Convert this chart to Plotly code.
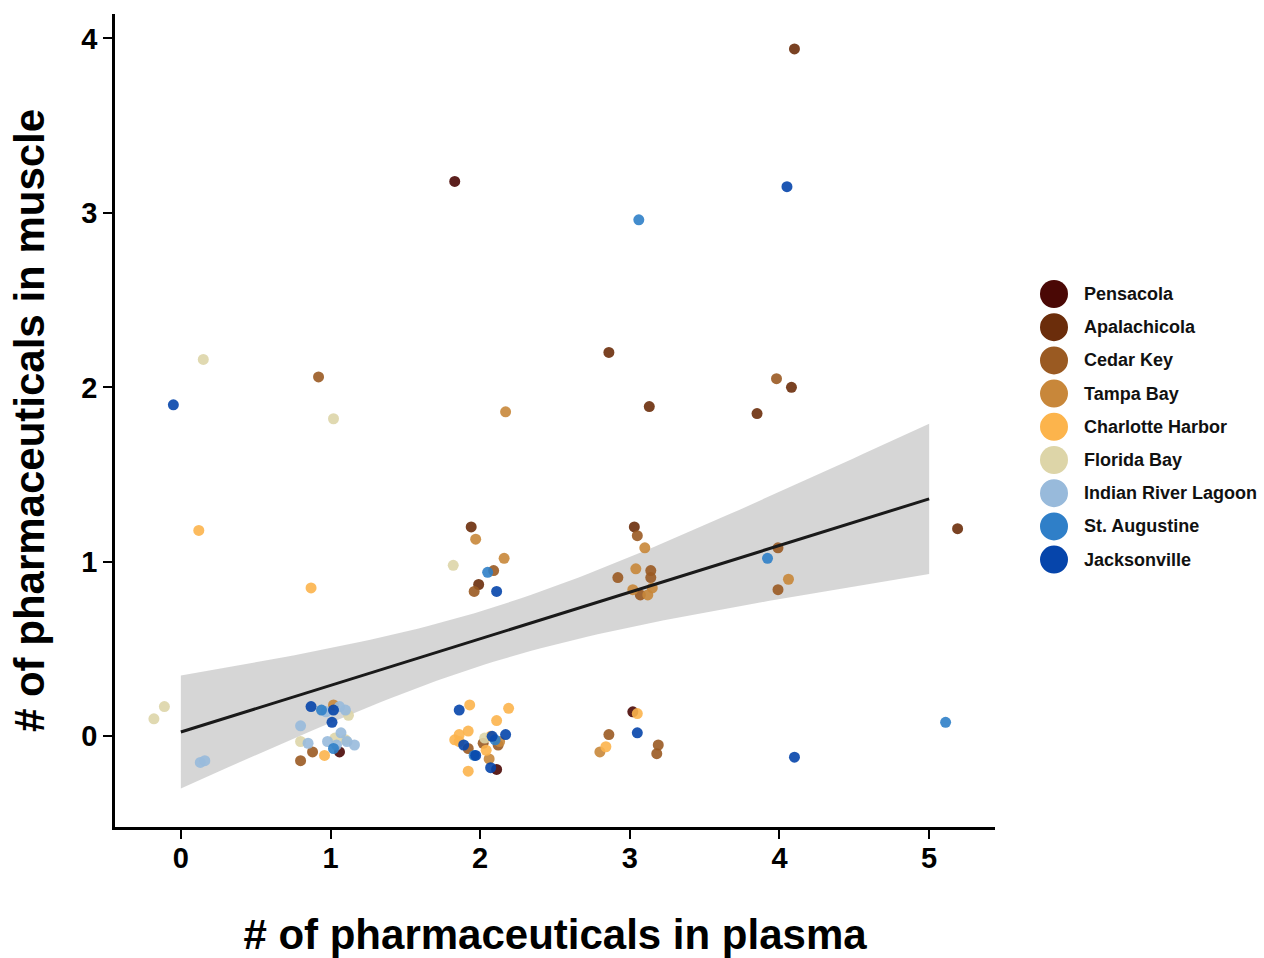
import numpy as np
import plotly.graph_objects as go

# ---- data (jittered positions) ----
sites = ["Pensacola", "Apalachicola", "Cedar Key", "Tampa Bay", "Charlotte Harbor",
         "Florida Bay", "Indian River Lagoon", "St. Augustine", "Jacksonville"]
colors = ["#4a0805", "#6b2d0b", "#9a5a22", "#c8873a", "#fcb44c",
          "#ddd5a8", "#98badb", "#2f7fc8", "#0645ab"]

pensacola_x = [1.83, 1.06, 2.11, 3.02]
pensacola_y = [3.18, -0.09, -0.19, 0.14]
apalachicola_x = [4.10, 4.08, 3.85, 3.13, 2.86, 1.94, 3.03, 5.19, 1.99]
apalachicola_y = [3.94, 2.00, 1.85, 1.89, 2.20, 1.20, 1.20, 1.19, 0.87]
cedarkey_x = [0.92, 3.98, 3.05, 2.09, 1.96, 2.92, 3.14, 3.14, 3.99, 3.99, 0.80, 0.88,
              2.86, 3.19, 3.18, 1.92, 2.02, 2.12, 3.07]
cedarkey_y = [2.06, 2.05, 1.15, 0.95, 0.83, 0.91, 0.95, 0.91, 1.08, 0.84, -0.14, -0.09,
              0.01, -0.05, -0.10, -0.07, -0.04, -0.05, 0.81]
tampa_x = [2.17, 1.97, 3.10, 2.16, 3.04, 3.02, 3.15, 4.06, 2.80, 1.02, 2.06, 2.13, 3.12]
tampa_y = [1.86, 1.13, 1.08, 1.02, 0.96, 0.84, 0.85, 0.90, -0.09, 0.18, -0.13, -0.03, 0.81]
charlotte_x = [0.12, 0.87, 3.05, 2.84, 1.93, 2.19, 0.96, 1.92, 1.83, 1.86, 1.92, 2.07,
               2.11, 2.04, 1.86]
charlotte_y = [1.18, 0.85, 0.13, -0.06, 0.18, 0.16, -0.11, -0.20, -0.02, 0.01, 0.03, 0.00,
               0.09, -0.08, -0.03]
floridabay_x = [0.15, 1.02, 1.82, -0.18, -0.11, 1.03, 1.10, 0.80, 2.03, 1.12]
floridabay_y = [2.16, 1.82, 0.98, 0.10, 0.17, -0.01, -0.02, -0.03, -0.01, 0.12]
irl_x = [0.13, 0.16, 0.80, 0.85, 1.16, 1.04, 1.07, 0.98, 1.10, 1.06, 0.97, 1.11]
irl_y = [-0.15, -0.14, 0.06, -0.04, -0.05, -0.05, 0.02, -0.03, 0.15, 0.17, 0.14, -0.03]
staug_x = [3.06, 3.92, 2.05, 5.11, 0.94, 1.02, 1.96, 2.10]
staug_y = [2.96, 1.02, 0.94, 0.08, 0.15, -0.07, -0.11, -0.02]
jax_x = [-0.05, 4.05, 2.11, 3.05, 4.10, 1.86, 1.01, 1.02, 0.87, 1.89, 2.17, 2.07, 1.97, 2.08]
jax_y = [1.90, 3.15, 0.83, 0.02, -0.12, 0.15, 0.08, 0.15, 0.17, -0.05, 0.01, -0.18, -0.11, 0.00]

xs = [pensacola_x, apalachicola_x, cedarkey_x, tampa_x, charlotte_x,
      floridabay_x, irl_x, staug_x, jax_x]
ys = [pensacola_y, apalachicola_y, cedarkey_y, tampa_y, charlotte_y,
      floridabay_y, irl_y, staug_y, jax_y]

# ---- linear fit with 95% CI (on un-jittered integer counts) ----
allx = np.round(np.concatenate([np.array(v) for v in xs]))
ally = np.round(np.concatenate([np.array(v) for v in ys]))
n = len(allx)
slope, intercept = np.polyfit(allx, ally, 1)
resid = ally - (intercept + slope * allx)
s = np.sqrt(np.sum(resid ** 2) / (n - 2))
xbar = allx.mean()
sxx = np.sum((allx - xbar) ** 2)
xg = np.linspace(0, 5, 80)
yg = intercept + slope * xg
hw = 1.98 * s * np.sqrt(1.0 / n + (xg - xbar) ** 2 / sxx)

fig = go.Figure()
fig.add_trace(go.Scatter(x=np.concatenate([xg, xg[::-1]]),
                         y=np.concatenate([yg + hw, (yg - hw)[::-1]]),
                         fill="toself", fillcolor="rgba(200,200,200,0.75)",
                         line=dict(width=0), hoverinfo="skip", showlegend=False))
for name, c, x, y in zip(sites, colors, xs, ys):
    fig.add_trace(go.Scatter(x=x, y=y, mode="markers", name=name,
                             marker=dict(color=c, size=11, opacity=0.9),
                             showlegend=False))
fig.add_trace(go.Scatter(x=xg, y=yg, mode="lines", line=dict(color="#1a1a1a", width=3),
                         showlegend=False, hoverinfo="skip"))

# ---- manual legend (large dots) ----
L, R, T, B = 115, 995, 14, 827
W, H = R - L, B - T
for i, (name, c) in enumerate(zip(sites, colors)):
    py = 294 + i * 33.2
    yp = (B - py) / H
    fig.add_shape(type="circle", xref="paper", yref="paper",
                  xsizemode="pixel", ysizemode="pixel",
                  xanchor=(1054 - L) / W, yanchor=yp,
                  x0=-14, x1=14, y0=-14, y1=14,
                  fillcolor=c, line=dict(width=0))
    fig.add_annotation(xref="paper", yref="paper", x=(1082 - L) / W, y=yp,
                       xanchor="left", yanchor="middle", showarrow=False,
                       text=f"<b>{name}</b>",
                       font=dict(family="Liberation Sans, Arial", size=18, color="#111"))

axis_common = dict(showline=True, linecolor="black", linewidth=2.5, ticks="outside",
                   ticklen=9, tickwidth=2, tickcolor="black", showgrid=False,
                   zeroline=False, mirror=False, automargin=False,
                   tickfont=dict(family="Liberation Sans, Arial", size=29, color="black"))
fig.update_layout(
    width=1264, height=958,
    margin=dict(l=L, r=1264 - R, t=T, b=958 - B),
    plot_bgcolor="white", paper_bgcolor="white",
    xaxis=dict(range=[-0.44, 5.44], tickvals=[0, 1, 2, 3, 4, 5],
               ticktext=["<b>0</b>", "<b>1</b>", "<b>2</b>", "<b>3</b>", "<b>4</b>", "<b>5</b>"],
               ticklabelstandoff=-6,
               title=dict(text="<b># of pharmaceuticals in plasma</b>", standoff=52,
                          font=dict(family="Liberation Sans, Arial", size=42, color="black")),
               **axis_common),
    yaxis=dict(range=[-0.52, 4.14], tickvals=[0, 1, 2, 3, 4],
               ticktext=["<b>0</b>", "<b>1</b>", "<b>2</b>", "<b>3</b>", "<b>4</b>"],
               title=dict(text="<b># of pharmaceuticals in muscle</b>", standoff=24,
                          font=dict(family="Liberation Sans, Arial", size=42, color="black")),
               **axis_common),
    showlegend=False,
)
fig.write_html("out.html")
